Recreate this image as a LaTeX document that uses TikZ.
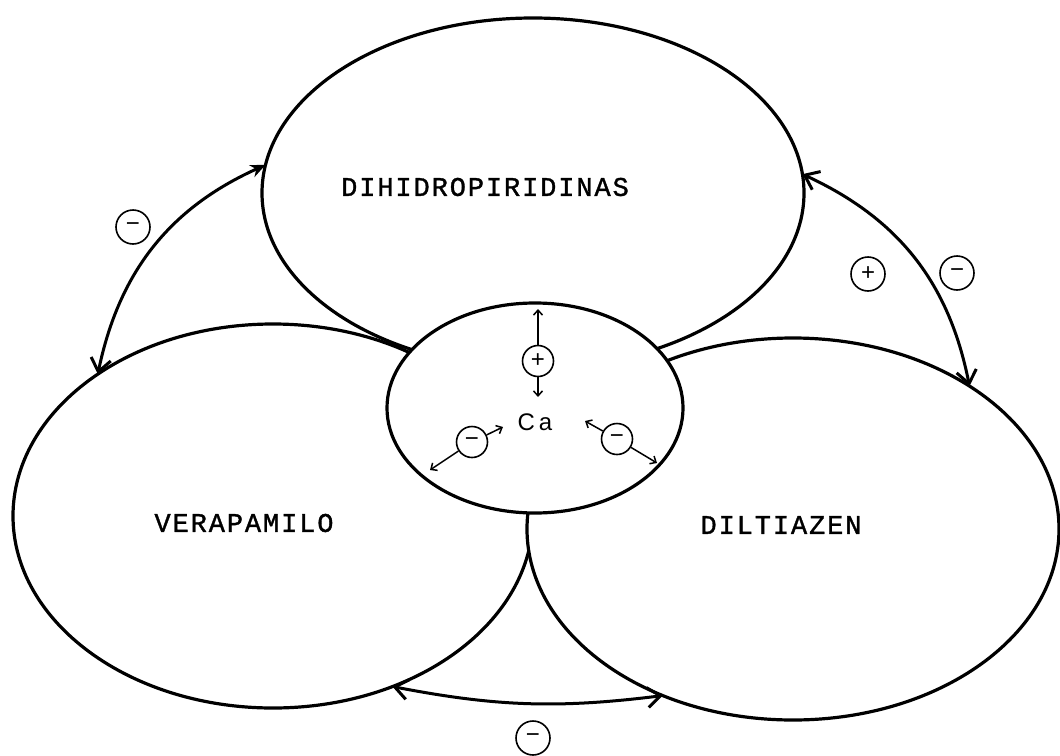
\documentclass[tikz,border=0pt]{standalone}
\usepackage{fontspec}
\usetikzlibrary{shapes.geometric,arrows.meta}
\newfontfamily\twfont[LetterSpace=7,FakeBold=1.2]{Liberation Mono}
\newfontfamily\signfont{Liberation Sans}
\begin{document}
\begin{tikzpicture}[x=1pt,y=-1pt,
  ell/.style={ellipse,draw,fill=white,line width=3.2pt,inner sep=0pt,outer sep=0pt},
  lab/.style={font=\twfont\fontsize{27}{27}\selectfont,inner sep=0pt},
  sign/.style={circle,draw,line width=1.6pt,minimum size=34pt,inner sep=0pt,font=\signfont\fontsize{24}{24}\selectfont},
  isign/.style={sign,minimum size=31pt},
  conn/.style={line width=3pt,{Straight Barb[length=13pt,width=20pt]}-{Straight Barb[length=13pt,width=20pt]}},
  small/.style={line width=1.5pt,-{Straight Barb[length=5pt,width=9pt]}}]
\useasboundingbox (0,0) rectangle (1060,755);
% ellipses
\node[ell,minimum width=520pt,minimum height=384pt] (verap) at (273,516) {};
\node[ell,minimum width=532pt,minimum height=382pt] (dilt) at (793,529) {};
\node[ell,minimum width=542pt,minimum height=350pt] (dihid) at (533,193) {};
\node[ell,minimum width=296pt,minimum height=210pt] (ca) at (535,408) {};
% labels
\node[lab] (t1) at (485,187) {DIHIDROPIRIDINAS};
\node[lab] (t2) at (244,523) {VERAPAMILO};
\node[lab] (t3) at (781,525) {DILTIAZEN};
\node[font=\signfont\fontsize{24}{24}\selectfont,inner sep=0pt] (catext) at (535,422) {C\,a};
% outer connectors
\draw[line width=3pt,{Stealth[length=15pt,width=13pt]}-{Straight Barb[length=13pt,width=20pt]}] (dihid.174.7) to[bend right=27] (verap.141);
\draw[conn] (dihid.4.2) to[bend left=27] (dilt.39);
\draw[conn] (verap.305) to[bend right=9] (dilt.232);
% signs
\node[sign] (m1) at (133,227) {−};
\node[sign] (p1) at (868,274) {+};
\node[sign] (m2) at (957,273) {−};
\node[sign] (m3) at (533,738) {−};
\node[isign] (p2) at (538,361) {+};
\node[isign] (m4) at (472,442) {−};
\node[isign] (m5) at (617,439) {−};
% inner arrows
\coordinate (a1) at (538,309);
\coordinate (a2) at (538,397);
\coordinate (a3) at (503,427);
\coordinate (a4) at (430,470);
\coordinate (a5) at (585,421);
\coordinate (a6) at (657,463);
\draw[small] (p2) -- (a1);
\draw[small] (p2) -- (a2);
\draw[small] (m4) -- (a3);
\draw[small] (m4) -- (a4);
\draw[small] (m5) -- (a5);
\draw[small] (m5) -- (a6);
\end{tikzpicture}
\end{document}
